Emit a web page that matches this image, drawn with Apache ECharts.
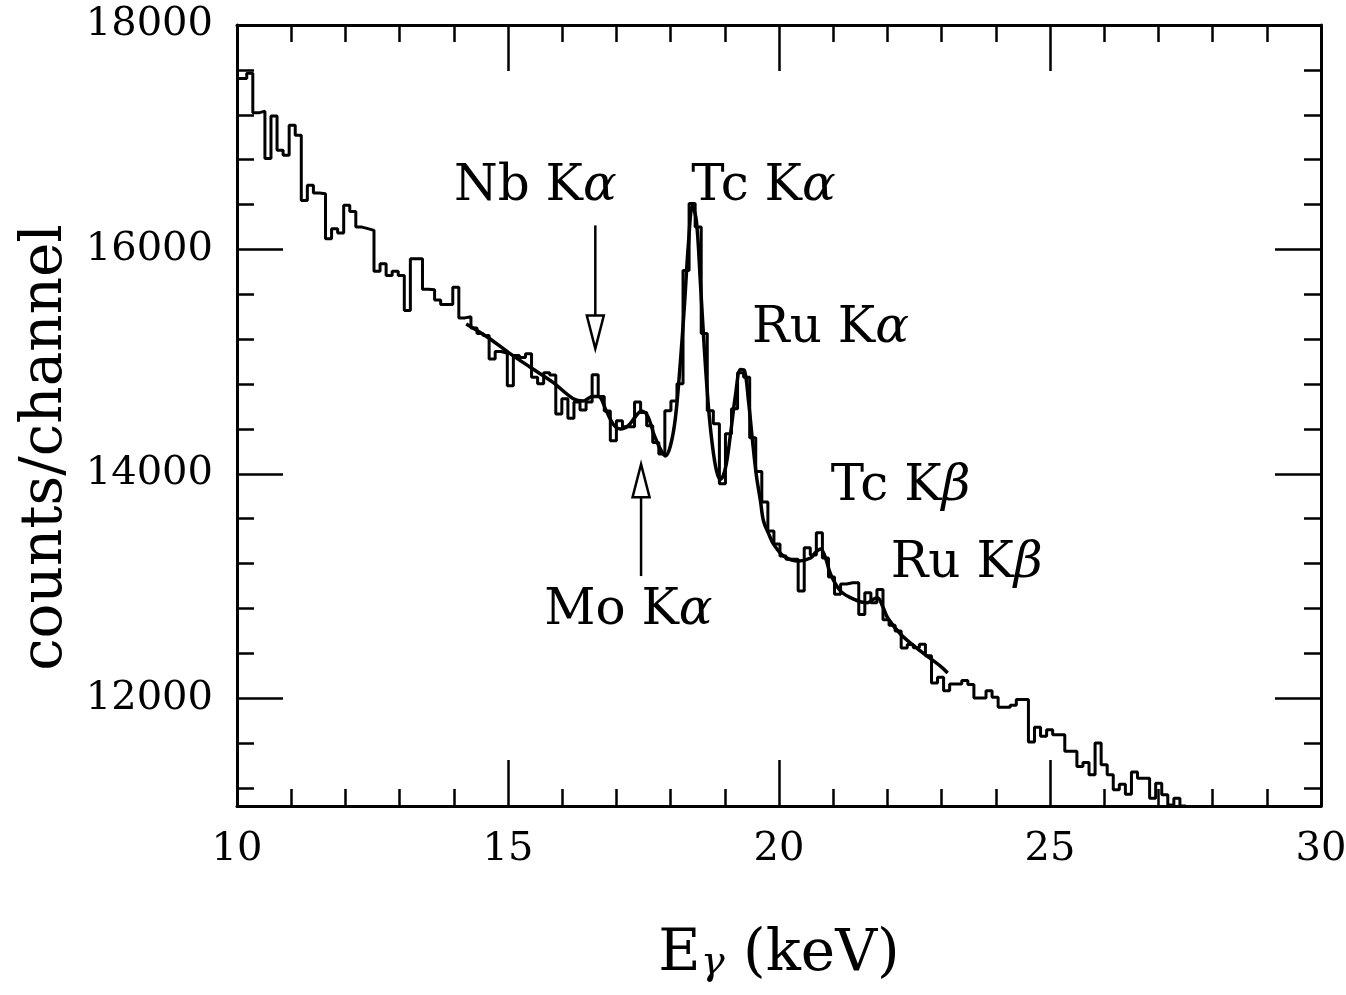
<!DOCTYPE html>
<html>
<head>
<meta charset="utf-8">
<script src="https://cdn.jsdelivr.net/npm/echarts@6/dist/echarts.min.js"></script>
<style>
html,body{margin:0;padding:0;background:#fff;}
#chart{width:1346px;height:995px;}
</style>
</head>
<body>
<div id="chart"></div>
<script>
// ---- data ----
const X_TICKS = [10, 15, 20, 25, 30];
const Y_MAJOR = [12000, 14000, 16000, 18000];
const Y_MINOR = [11200, 11600, 12400, 12800, 13200, 13600, 14400, 14800, 15200, 15600, 16400, 16800, 17200, 17600];

const BIN_START = 10.068;   // keV, left edge of first full channel
const BIN_WIDTH = 0.1118;   // keV per channel
const COUNTS = [
  17524, 17569, 17217, 17232, 16810, 17190, 16884, 16839, 17107, 17018,
  16437, 16571, 16503, 16497, 16095, 16185, 16146, 16393, 16339, 16199,
  16185, 16170, 15806, 15872, 15768, 15806, 15768, 15455, 15917, 15917,
  15645, 15640, 15550, 15509, 15509, 15663, 15390, 15400, 15300, 15250,
  15232, 15024, 15090, 15075, 14786, 15054, 15036, 15070, 14860, 14803,
  14900, 14880, 14533, 14670, 14495, 14640, 14570, 14640, 14884, 14690,
  14560, 14294, 14473, 14420, 14420, 14640, 14547, 14428, 14279, 14178,
  14562, 14650, 14803, 15812, 16410, 16200, 15250, 14562, 14446, 13911,
  14357, 14580, 14900, 14860, 14321, 14020, 13750, 13491, 13375, 13268,
  13240, 13240, 12955, 13342, 13277, 13476, 13250, 13080, 12928, 13018,
  13030, 13030, 12747, 12940, 12851, 12970, 12700, 12650, 12600, 12449,
  12480, 12450, 12482, 12380, 12136, 12187, 12068, 12128, 12128, 12158,
  12122, 12003, 12003, 12068, 12009, 11919, 11919, 11937, 11988, 11988,
  11610, 11741, 11661, 11720, 11675, 11675, 11527, 11527, 11393, 11428,
  11318, 11601, 11408, 11318, 11184, 11234, 11145, 11342, 11288, 11288,
  11109, 11243, 11140, 11050, 11109, 11040
];

const FIT_E = [14.229, 14.617, 15.005, 15.411, 15.817, 16.205, 16.390, 16.556, 16.667, 16.815,
  16.944, 17.073, 17.221, 17.368, 17.461, 17.572, 17.701, 17.812, 17.904, 17.997,
  18.089, 18.181, 18.255, 18.329, 18.403, 18.477, 18.550, 18.624, 18.698, 18.772,
  18.846, 18.920, 19.012, 19.104, 19.197, 19.289, 19.363, 19.437, 19.510, 19.584,
  19.658, 19.714, 19.806, 19.898, 20.083, 20.360, 20.582, 20.674, 20.766, 20.859,
  20.951, 21.136, 21.376, 21.629, 21.727, 21.819, 21.912, 22.004, 22.244, 22.613,
  22.983, 23.112];
const FIT_COUNTS = [15336, 15220, 15083, 14950, 14820, 14670, 14650, 14690, 14690, 14560,
  14440, 14400, 14430, 14520, 14560, 14520, 14340, 14220, 14160, 14250,
  14500, 15000, 15500, 16050, 16390, 16250, 15700, 15100, 14600, 14250,
  14030, 13950, 14050, 14350, 14700, 14930, 14920, 14650, 14300, 13980,
  13759, 13580, 13470, 13375, 13268, 13223, 13250, 13300, 13330, 13250,
  13107, 12955, 12884, 12851, 12880, 12896, 12820, 12717, 12571, 12420,
  12285, 12226];

const LABEL_TEXT  = ['Nb K', 'Tc K', 'Ru K', 'Tc K', 'Ru K', 'Mo K'];
const LABEL_GREEK = ['α', 'α', 'α', 'β', 'β', 'α'];
const LABEL_E     = [15.503, 19.714, 20.951, 22.244, 23.463, 17.221];
const LABEL_C     = [16553, 16553, 15294, 13884, 13196, 12777];

const ARROW_E    = [16.611, 17.455];
const ARROW_TAIL = [16214, 13089];
const ARROW_TIP  = [15116, 14086];

const X_NAME = 'E';
const X_NAME_SUB = 'γ';
const X_NAME_REST = ' (keV)';
const Y_NAME = 'counts/channel';

// ---- build ----
const FONT = 'DejaVu Serif';
const histData = COUNTS.map((c, i) => [i === 0 ? 10 : BIN_START + i * BIN_WIDTH, c]);
histData.push([BIN_START + COUNTS.length * BIN_WIDTH, COUNTS[COUNTS.length - 1]]);
const fitData = FIT_E.map((e, i) => [e, FIT_COUNTS[i]]);
const labelData = LABEL_E.map((e, i) => [e, LABEL_C[i]]);
const arrowData = ARROW_E.map((e, i) => [e, ARROW_TAIL[i], ARROW_TIP[i]]);

const black = '#000';
function xAxisDef(pos, showLabel) {
  return {
    type: 'value', position: pos, min: 10, max: 30, interval: 5,
    axisLine: {show: true, onZero: false, lineStyle: {color: black, width: 3}},
    axisTick: {show: true, inside: true, length: 46, lineStyle: {color: black, width: 2.5}},
    minorTick: {show: true, splitNumber: 5, length: 17, lineStyle: {color: black, width: 2.5}},
    splitLine: {show: false}, minorSplitLine: {show: false},
    axisLabel: {show: showLabel, color: black, fontFamily: FONT, fontSize: 40, margin: 24,
      formatter: v => X_TICKS.indexOf(v) >= 0 ? String(v) : ''}
  };
}
function yAxisDef(pos, values, len, showLine, showLabel) {
  return {
    type: 'value', position: pos, min: 11040, max: 18000,
    axisLine: {show: showLine, onZero: false, lineStyle: {color: black, width: 3}},
    axisTick: {show: true, inside: true, length: len, customValues: values, lineStyle: {color: black, width: 2.5}},
    splitLine: {show: false},
    axisLabel: {show: showLabel, customValues: values, color: black, fontFamily: FONT, fontSize: 40, margin: 24,
      formatter: v => String(v)}
  };
}

const xMain = xAxisDef('bottom', true);
xMain.name = '{t|' + X_NAME + '}{s|' + X_NAME_SUB + '}{t|' + X_NAME_REST + '}';
xMain.nameLocation = 'middle';
xMain.nameGap = 106;
xMain.nameTextStyle = {
  color: black, fontFamily: FONT, fontSize: 58,
  rich: {
    t: {fontFamily: FONT, fontSize: 58, color: black, verticalAlign: 'bottom', lineHeight: 72},
    s: {fontFamily: FONT, fontSize: 40, fontStyle: 'italic', color: black, verticalAlign: 'bottom', lineHeight: 40}
  }
};

const yMain = yAxisDef('left', Y_MAJOR, 46, true, true);
yMain.name = Y_NAME;
yMain.nameLocation = 'middle';
yMain.nameGap = 150;
yMain.nameTextStyle = {color: black, fontFamily: FONT, fontSize: 58, padding: [0, 64, 0, 0]};

const chart = echarts.init(document.getElementById('chart'), null, {renderer: 'canvas'});
chart.setOption({
  animation: false,
  backgroundColor: '#fff',
  grid: {left: 237, right: 25, top: 25, bottom: 189, outerBoundsMode: 'none'},
  xAxis: [xMain, xAxisDef('top', false)],
  yAxis: [
    yMain,
    yAxisDef('left', Y_MINOR, 17, false, false),
    yAxisDef('right', Y_MAJOR, 46, true, false),
    yAxisDef('right', Y_MINOR, 17, false, false)
  ],
  series: [
    {
      type: 'line', step: 'end', data: histData, symbol: 'none', clip: true,
      lineStyle: {color: black, width: 3}, z: 3
    },
    {
      type: 'line', data: fitData, symbol: 'none', smooth: 0.35, clip: true,
      lineStyle: {color: black, width: 3.5}, z: 4
    },
    {
      type: 'custom', data: labelData, z: 5, clip: false,
      renderItem: function (params, api) {
        const p = api.coord([api.value(0), api.value(1)]);
        const i = params.dataIndex;
        return {
          type: 'text', x: p[0], y: p[1],
          style: {
            text: '{r|' + LABEL_TEXT[i] + '}{g|' + LABEL_GREEK[i] + '}',
            rich: {
              r: {fontFamily: FONT, fontSize: 50, fill: black, color: black},
              g: {fontFamily: FONT, fontSize: 50, fontStyle: 'italic', fill: black, color: black}
            },
            fill: black, align: 'center', verticalAlign: 'middle'
          }
        };
      }
    },
    {
      type: 'custom', data: arrowData, z: 5, clip: false,
      renderItem: function (params, api) {
        const e = api.value(0);
        const tail = api.coord([e, api.value(1)]);
        const tip = api.coord([e, api.value(2)]);
        const dir = Math.sign(tip[1] - tail[1]);
        const headH = 33, headW = 17;
        const base = tip[1] - dir * headH;
        return {
          type: 'group',
          children: [
            {type: 'line', shape: {x1: tail[0], y1: tail[1], x2: tail[0], y2: base},
              style: {stroke: black, lineWidth: 2.5}},
            {type: 'polygon', shape: {points: [[tip[0] - headW / 2, base], [tip[0] + headW / 2, base], [tip[0], tip[1]]]},
              style: {fill: '#fff', stroke: black, lineWidth: 2.5}}
          ]
        };
      }
    }
  ]
});
</script>
</body>
</html>
